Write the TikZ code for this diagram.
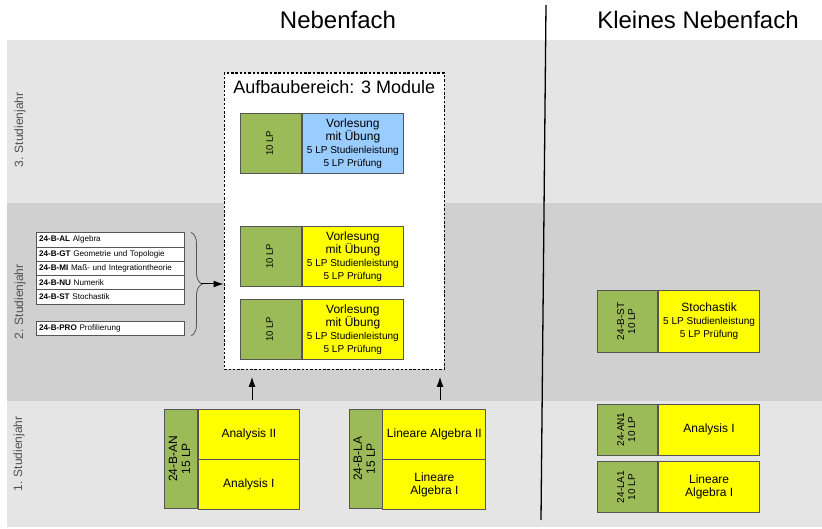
\documentclass[tikz,border=0pt]{standalone}
\usepackage{fontspec}
\setmainfont{Liberation Sans}
\usetikzlibrary{arrows.meta,decorations.pathreplacing}

\definecolor{lpgruen}{RGB}{155,187,89}
\definecolor{vlgelb}{RGB}{255,255,0}
\definecolor{vlblau}{RGB}{153,204,255}
\definecolor{rand}{RGB}{85,85,85}
\definecolor{hell}{RGB}{229,229,229}
\definecolor{dunkel}{RGB}{208,208,208}
\definecolor{jahrgrau}{RGB}{80,80,80}

\newcommand{\fsz}[2]{\fontsize{#1}{#2}\selectfont}
\newcommand{\klein}{\fsz{10}{11}}
\newcommand{\dreh}[1]{\rotatebox{90}{\begin{tabular}{@{}c@{}}#1\end{tabular}}}
\newcommand{\vlue}{Vorlesung\\mit Übung\\\klein 5 LP Studienleistung\\\klein 5 LP Prüfung}

\tikzset{
  modul/.style={draw=rand, line width=0.9pt, inner sep=1pt, anchor=north west},
  lp/.style={modul, fill=lpgruen, font=\fsz{9.5}{10}},
  vl/.style={modul, fill=vlgelb, align=center, font=\fsz{12}{13}},
  liste/.style={draw=rand, fill=white, line width=0.7pt, anchor=north west,
    minimum height=14.3pt, text width=142.6pt, inner xsep=3pt, inner ysep=0pt,
    align=left, font=\fsz{8.1}{9}},
  pfeil/.style={-{Latex[length=10pt,width=7pt]}, line width=1pt},
}

\begin{document}
\begin{tikzpicture}[x=1pt,y=-1pt]
\useasboundingbox (0,0) rectangle (822,529);
% Jahresstreifen
\fill[hell] (7,40) rectangle (822,203);
\fill[dunkel] (7,203) rectangle (822,401);
\fill[hell] (7,401) rectangle (822,527);
\draw[line width=1.3pt] (546,5) -- (541,520);

\node[font=\fsz{24}{28}] (nf) at (338,20) {Nebenfach};
\node[font=\fsz{24}{28}] (knf) at (698,20) {Kleines Nebenfach};

\node[rotate=90, text=jahrgrau, font=\fsz{12}{14}] (j3) at (20,130) {3. Studienjahr};
\node[rotate=90, text=jahrgrau, font=\fsz{12}{14}] (j2) at (20,302) {2. Studienjahr};
\node[rotate=90, text=jahrgrau, font=\fsz{12}{14}] (j1) at (19,454) {1. Studienjahr};

% Aufbaubereich
\node[draw=black, line width=1.4pt, dash pattern=on 2.5pt off 1.8pt, fill=white,
  minimum width=220pt, minimum height=296pt, anchor=north west, inner sep=0pt]
  (aufbau) at (223.5,72.5) {};
\node[font=\fsz{18}{20}, anchor=north] (titel) at ([yshift=-4pt]aufbau.north) {Aufbaubereich: 3 Module};

\node[lp, minimum width=61pt, minimum height=60pt] (m3l) at (240,113) {\dreh{10 LP}};
\node[vl, fill=vlblau, minimum width=101pt, minimum height=60pt] (m3r) at (m3l.north east) {\vlue};
\foreach \y/\n in {226/a, 299/b}{
  \node[lp, minimum width=61pt, minimum height=60pt] (m2\n l) at (240,\y) {\dreh{10 LP}};
  \node[vl, minimum width=101pt, minimum height=60pt] (m2\n r) at (m2\n l.north east) {\vlue};
}

% Wahlliste
\foreach \kurz/\lang [count=\i] in {AL/Algebra, GT/Geometrie und Topologie,
    MI/Maß- und Integrationtheorie, NU/Numerik, ST/Stochastik}
  \node[liste] (l\i) at (35.7,{232.3+14.3*(\i-1)}) {\textbf{24-B-\kurz} \lang};
\node[liste] (pro) at (35.7,321) {\textbf{24-B-PRO} Profilierung};
\draw[rand, line width=0.8pt, decorate, decoration={brace, amplitude=11pt}]
  ([xshift=6pt]l1.north east) -- ([xshift=6pt]pro.south east);
\coordinate (kl) at (201,284);
\draw[pfeil] (kl) -- (kl -| aufbau.west);

% 1. Studienjahr
\node[lp, minimum width=33pt, minimum height=99pt, font=\fsz{12}{13}] (an) at (164,409) {\dreh{24-B-AN\\15 LP}};
\node[vl, minimum width=101pt, minimum height=49.5pt] (an2) at (an.north east) {Analysis II};
\node[vl, minimum width=101pt, minimum height=49.5pt] (an1) at (an2.south west) {Analysis I};
\node[lp, minimum width=32.5pt, minimum height=99pt, font=\fsz{12}{13}] (la) at (349,409) {\dreh{24-B-LA\\15 LP}};
\node[vl, minimum width=103pt, minimum height=49.5pt] (la2) at (la.north east) {Lineare Algebra II};
\node[vl, minimum width=103pt, minimum height=49.5pt] (la1) at (la2.south west) {Lineare\\Algebra I};

\coordinate (pa) at (252,400);
\coordinate (pb) at (440,400);
\draw[pfeil, shorten >=7pt] (pa) -- (pa |- aufbau.south);
\draw[pfeil, shorten >=7pt] (pb) -- (pb |- aufbau.south);

% Kleines Nebenfach
\node[lp, minimum width=60pt, minimum height=62pt, font=\fsz{10}{11}] (st) at (597,290) {\dreh{24-B-ST\\10 LP}};
\node[vl, minimum width=101.5pt, minimum height=62pt] (str) at (st.north east)
  {Stochastik\\\klein 5 LP Studienleistung\\\klein 5 LP Prüfung};
\node[lp, minimum width=60pt, minimum height=51pt, font=\fsz{10}{11}] (an1k) at (597,403.5) {\dreh{24-AN1\\10 LP}};
\node[vl, minimum width=101.5pt, minimum height=51pt] (an1kr) at (an1k.north east) {Analysis I};
\node[lp, minimum width=60pt, minimum height=51pt, font=\fsz{10}{11}] (la1k) at (597,461) {\dreh{24-LA1\\10 LP}};
\node[vl, minimum width=101.5pt, minimum height=51pt] (la1kr) at (la1k.north east) {Lineare\\Algebra I};
\end{tikzpicture}
\end{document}
